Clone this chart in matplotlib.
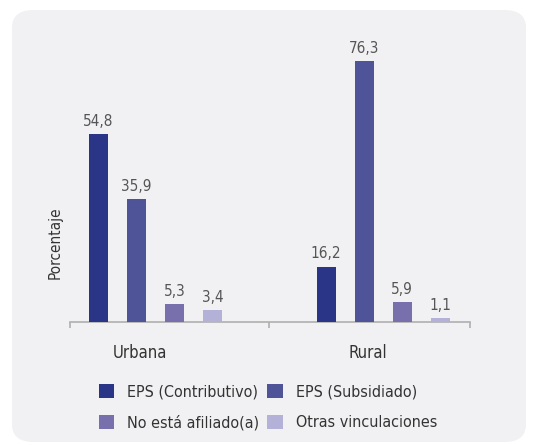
import matplotlib.pyplot as plt
from matplotlib.patches import FancyBboxPatch
from matplotlib import font_manager

zonas = ['Urbana', 'Rural']
series = ['EPS (Contributivo)', 'EPS (Subsidiado)', 'No está afiliado(a)', 'Otras vinculaciones']
contributivo = [54.8, 16.2]
subsidiado = [35.9, 76.3]
no_afiliado = [5.3, 5.9]
otras = [3.4, 1.1]

colores = ['#2a3587', '#4e5497', '#7770ac', '#b4b1d8']

names = {f.name for f in font_manager.fontManager.ttflist}
fam = 'Liberation Sans Narrow' if 'Liberation Sans Narrow' in names else 'DejaVu Sans'
plt.rcParams['font.family'] = [fam, 'DejaVu Sans']
plt.rcParams['font.stretch'] = 'condensed'

fig = plt.figure(figsize=(5.38, 4.45), dpi=100)
fig.patch.set_facecolor('white')
panel = FancyBboxPatch((12 / 538, 3 / 445), 514 / 538, 432 / 445,
                       boxstyle='round,pad=0,rounding_size=0.04',
                       transform=fig.transFigure, facecolor='#f1f1f3',
                       edgecolor='none', zorder=-5)
fig.patches.append(panel)

ax = fig.add_axes([70 / 538, 1 - 322 / 445, 400 / 538, 274 / 445])
ax.set_facecolor('none')
ax.set_zorder(2)

valores = [contributivo, subsidiado, no_afiliado, otras]
w = 0.0835
paso = 0.167
handles = []
for i, vals in enumerate(valores):
    xs = [g + (i - 1.5) * paso for g in range(len(zonas))]
    bars = ax.bar(xs, vals, width=w, color=colores[i], label=series[i], zorder=3)
    handles.append(bars)
    for b, v in zip(bars, vals):
        ax.text(b.get_x() + b.get_width() / 2, v + 1.5, f'{v:.1f}'.replace('.', ','),
                ha='center', va='bottom', fontsize=11, color='#555555')

ax.set_xlim(-0.376, 1.382)
ax.set_ylim(0, 80)
for s in ['top', 'right', 'left']:
    ax.spines[s].set_visible(False)
ax.spines['bottom'].set_color('#b0b0b0')
ax.spines['bottom'].set_linewidth(1.2)
ax.set_yticks([])
ax.set_xticks([-0.376, 0.5, 1.382])
ax.set_xticklabels([])
ax.tick_params(axis='x', length=4, color='#b0b0b0', width=1.2)

for g, z in enumerate(zonas):
    ax.text(g - 0.068, -6.5, z, ha='center', va='top', fontsize=12, color='#333333')

# the label sits low, not centred on the axis
ax.text(-0.0375, 0.288, 'Porcentaje', transform=ax.transAxes, rotation=90,
        ha='center', va='center', fontsize=11, color='#333333')

orden = [0, 2, 1, 3]
fig.legend([handles[k] for k in orden], [series[k] for k in orden],
           loc='center', bbox_to_anchor=(268 / 538, 1 - 407 / 445), ncol=2,
           frameon=False, fontsize=11.5, handlelength=1.0, handleheight=1.0,
           handletextpad=0.8, columnspacing=0.5, labelspacing=0.95,
           labelcolor='#333333')

fig.savefig('out.png', dpi=100, facecolor='white')
